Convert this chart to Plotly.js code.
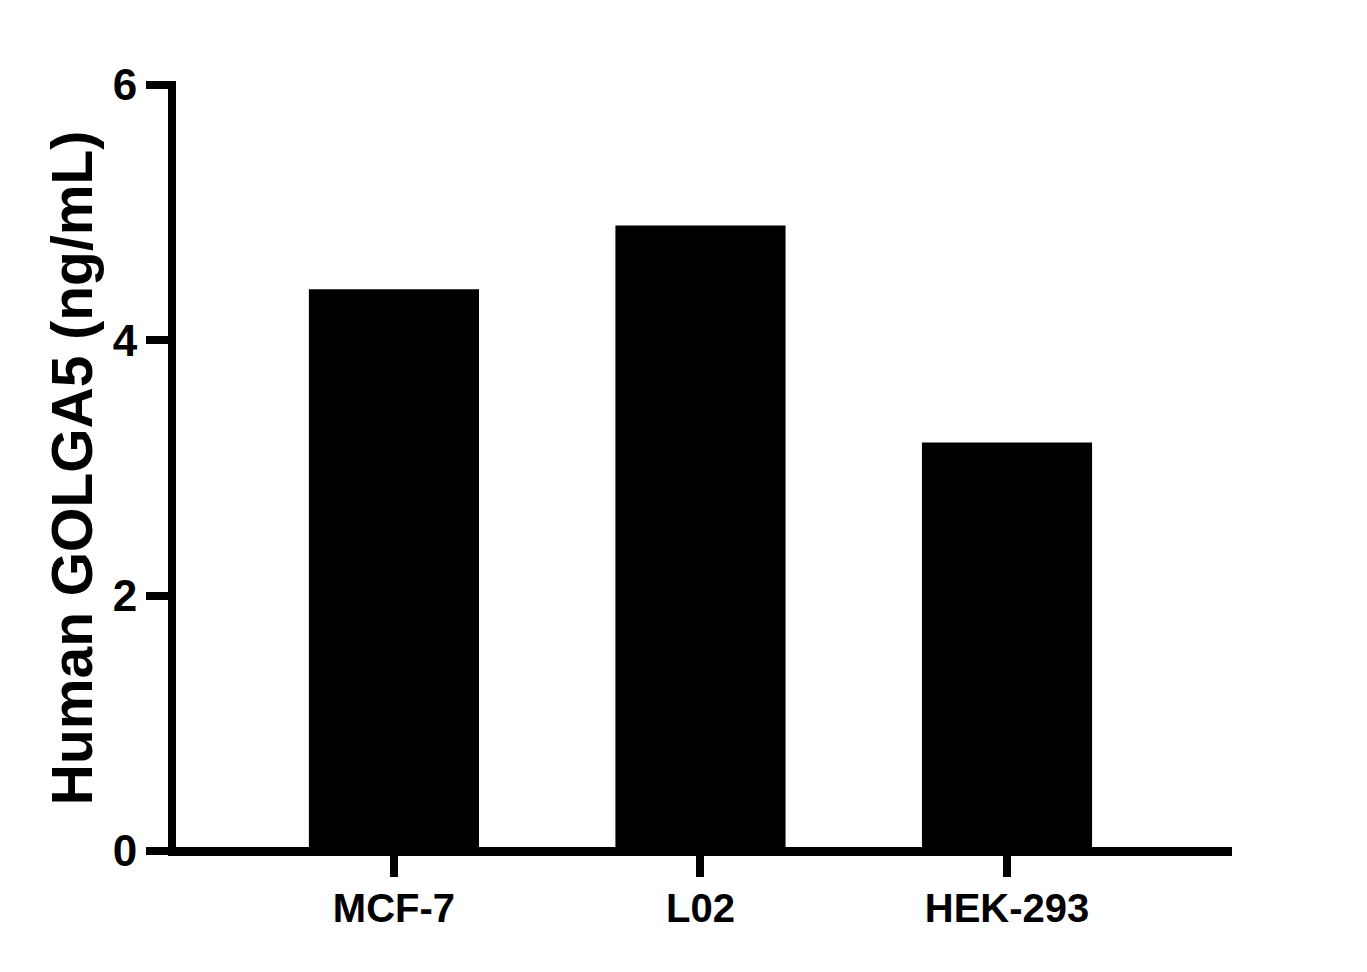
<!DOCTYPE html>
<html>
<head>
<meta charset="utf-8">
<script src="https://cdn.plot.ly/plotly-3.0.1.min.js"></script>
<style>html,body{margin:0;padding:0;background:#fff;}#chart{width:1367px;height:972px;}</style>
</head>
<body>
<div id="chart"></div>
<script>
const categories = ["MCF-7", "L02", "HEK-293"];
const values = [4.40, 4.90, 3.20];
const yTickVals = [0, 2, 4, 6];
const yTickText = ["0", "2", "4", "6"];

const trace = {
  type: "bar",
  x: [0, 1, 2],
  y: values,
  width: 0.555,
  marker: {color: "#000000", line: {width: 0}},
  hoverinfo: "skip"
};

const FONT = "Arial, 'Liberation Sans', sans-serif";

const layout = {
  width: 1367,
  height: 972,
  paper_bgcolor: "#ffffff",
  plot_bgcolor: "#ffffff",
  showlegend: false,
  margin: {l: 176, r: 135, t: 81, b: 117},
  font: {family: FONT, color: "#000000"},
  xaxis: {
    range: [-0.711, 2.734],
    tickmode: "array",
    tickvals: [0, 1, 2],
    ticktext: categories,
    showline: true,
    linecolor: "#000000",
    linewidth: 1,
    ticks: "outside",
    ticklen: 21,
    tickwidth: 8,
    tickcolor: "#000000",
    ticklabelstandoff: -3,
    showgrid: false,
    zeroline: false,
    tickfont: {size: 40, family: FONT, weight: "bold", color: "#000000"},
    fixedrange: true
  },
  yaxis: {
    range: [-0.0313, 6.0313],
    tickmode: "array",
    tickvals: yTickVals,
    ticktext: yTickText,
    showline: true,
    linecolor: "#000000",
    linewidth: 8,
    ticks: "outside",
    ticklen: 22,
    tickwidth: 8,
    tickcolor: "#000000",
    showgrid: false,
    zeroline: true,
    zerolinecolor: "#000000",
    zerolinewidth: 8,
    tickfont: {size: 44, family: FONT, weight: "bold", color: "#000000"},
    title: {text: "Human GOLGA5 (ng/mL)", font: {size: 57, family: FONT, weight: "bold", color: "#000000"}, standoff: 5},
    fixedrange: true
  }
};

Plotly.newPlot("chart", [trace], layout, {displayModeBar: false, staticPlot: true});
</script>
</body>
</html>
